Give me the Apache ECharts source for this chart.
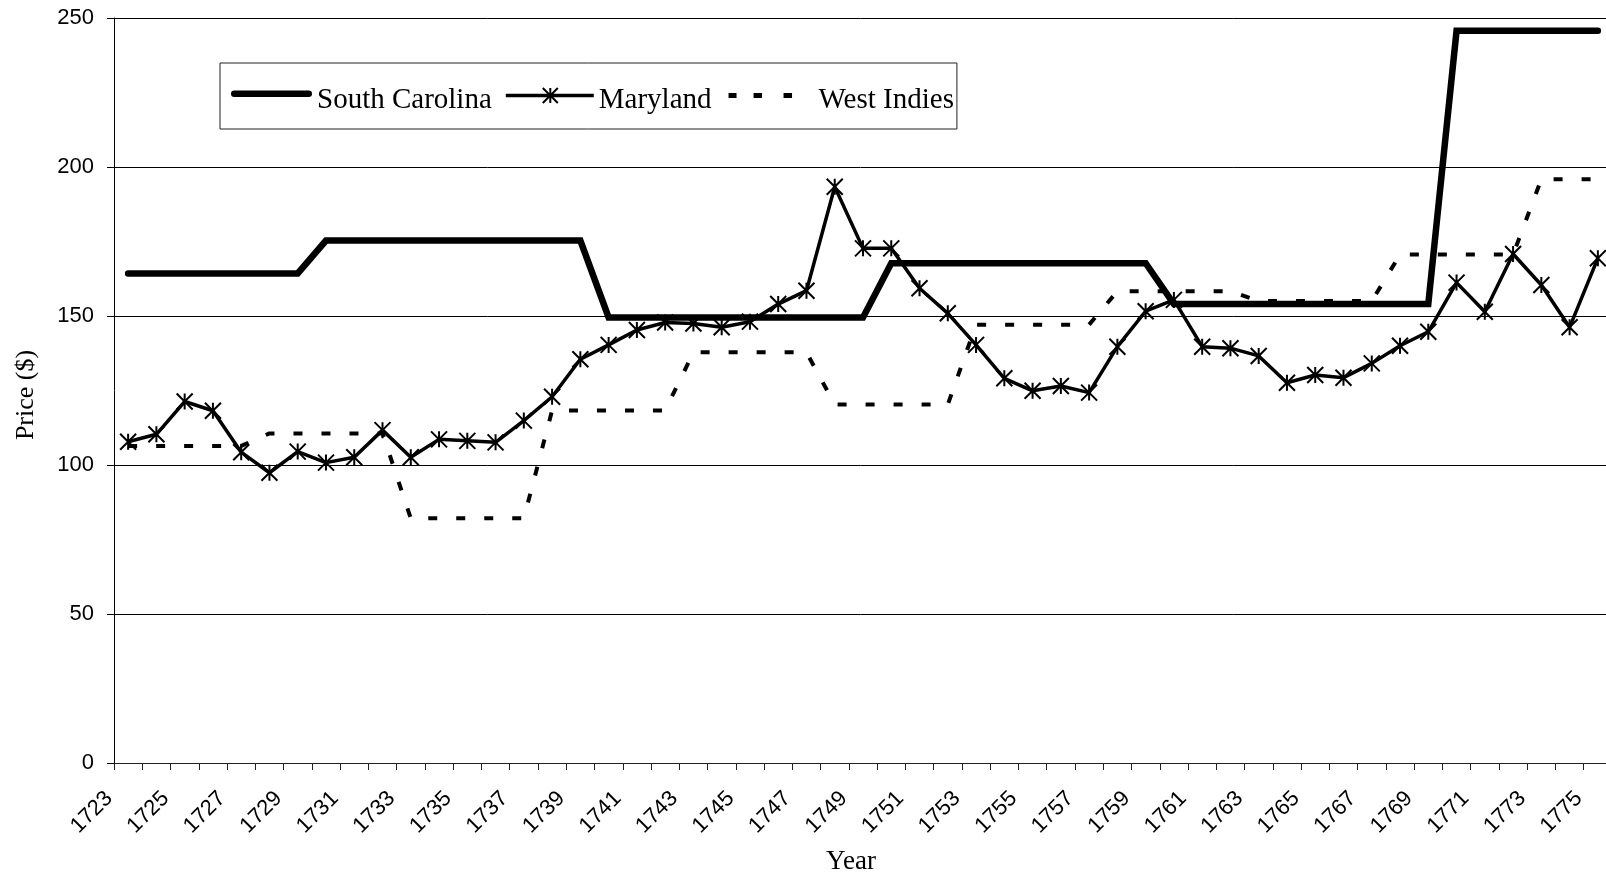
<!DOCTYPE html>
<html>
<head>
<meta charset="utf-8">
<script src="https://cdn.jsdelivr.net/npm/echarts@6/dist/echarts.min.js"></script>
<style>
html,body{margin:0;padding:0;background:#fff;}
#chart{width:1606px;height:878px;}
</style>
</head>
<body>
<div id="chart"></div>
<script>
var years = ['1723','1724','1725','1726','1727','1728','1729','1730','1731','1732','1733','1734','1735','1736','1737','1738','1739','1740','1741','1742','1743','1744','1745','1746','1747','1748','1749','1750','1751','1752','1753','1754','1755','1756','1757','1758','1759','1760','1761','1762','1763','1764','1765','1766','1767','1768','1769','1770','1771','1772','1773','1774','1775'];

var southCarolina = [164.3,164.3,164.3,164.3,164.3,164.3,164.3,
  175.3,175.3,175.3,175.3,175.3,175.3,175.3,175.3,175.3,175.3,
  149.5,149.5,149.5,149.5,149.5,149.5,149.5,149.5,149.5,149.5,
  167.7,167.7,167.7,167.7,167.7,167.7,167.7,167.7,167.7,167.7,
  154.0,154.0,154.0,154.0,154.0,154.0,154.0,154.0,154.0,154.0,
  245.7,245.7,245.7,245.7,245.7,245.7];

var maryland = [107.8,110.3,121.3,118.2,104.3,97.4,104.5,100.8,102.6,111.7,102.6,108.6,108.1,107.6,114.9,122.9,135.5,
  140.3,145.3,147.8,147.5,146.2,148.1,154.0,158.5,193.4,172.7,172.7,159.3,150.9,140.3,129.1,124.9,126.5,
  124.3,139.7,151.6,155.4,139.7,139.2,136.6,127.6,130.2,129.3,134.1,140.0,144.7,161.2,151.4,170.8,160.4,146.2,169.4];

var westIndies = [106.4,106.4,106.4,106.4,106.4,
  110.6,110.6,110.6,110.6,110.6,
  82.1,82.1,82.1,82.1,82.1,
  118.3,118.3,118.3,118.3,118.3,
  137.8,137.8,137.8,137.8,137.8,
  120.3,120.3,120.3,120.3,120.3,
  147.1,147.1,147.1,147.1,147.1,
  158.3,158.3,158.3,158.3,158.3,
  155.0,155.0,155.0,155.0,155.0,
  170.6,170.6,170.6,170.6,170.6,
  195.9,195.9,195.9];

var yTicks = {min: 0, max: 250, interval: 50};

var chart = echarts.init(document.getElementById('chart'), null, {renderer: 'canvas'});
var serif = '"Liberation Serif", "Times New Roman", serif';
var sans = '"Liberation Sans", Arial, sans-serif';

// legend icons (all share a 88x26 box so they are drawn at 1:1)
var box = 'M0,0L0.02,0L0.02,0.02Z M87.98,25.98L88,25.98L88,26Z ';
var iconSC = 'path://' + box + 'M10.25,3.55 L84.75,3.55 A3.25,3.25 0 0 1 84.75,10.05 L10.25,10.05 A3.25,3.25 0 0 1 10.25,3.55 Z';
var iconMD = 'path://' + box + 'M0,6.75 L88,6.75 L88,10.25 L0,10.25 Z ' +
  'M43.5,1 L45.5,1 L45.5,16 L43.5,16 Z ' +
  'M37.71,0.29 L52.71,15.29 L51.29,16.71 L36.29,1.71 Z ' +
  'M52.71,1.71 L37.71,16.71 L36.29,15.29 L51.29,0.29 Z';
var iconWI = 'path://' + box + 'M3,6 L11,6 L11,11 L3,11 Z M28,6 L36.5,6 L36.5,11 L28,11 Z M58,6 L66.5,6 L66.5,11 L58,11 Z';

chart.setOption({
  animation: false,
  backgroundColor: '#fff',
  grid: {left: 114, top: 18, right: -6, bottom: 115, containLabel: false, outerBoundsMode: 'none'},
  legend: {
    left: 220, top: 63,
    orient: 'horizontal',
    padding: [22.5, 3, 14.5, 4],
    itemGap: 14,
    itemWidth: 88,
    itemHeight: 26,
    symbolKeepAspect: true,
    borderColor: '#222',
    borderWidth: 1,
    backgroundColor: '#fff',
    itemStyle: {color: '#000', borderWidth: 0},
    textStyle: {fontFamily: serif, fontSize: 29, color: '#000'},
    data: [
      {name: 'South Carolina', icon: iconSC, itemStyle: {color: '#000', borderWidth: 0}},
      {name: 'Maryland', icon: iconMD, itemStyle: {color: '#000', borderWidth: 0}},
      {name: 'West Indies', icon: iconWI, itemStyle: {color: '#000', borderWidth: 0}}
    ]
  },
  xAxis: {
    type: 'category',
    data: years,
    boundaryGap: true,
    name: 'Year',
    nameLocation: 'middle',
    nameGap: 85,
    nameTextStyle: {fontFamily: serif, fontSize: 27, color: '#000', padding: [0, 24, 0, 0]},
    axisLine: {show: true, lineStyle: {color: '#222', width: 1}},
    axisTick: {show: true, interval: 0, length: 7, inside: false, lineStyle: {color: '#222'}},
    axisLabel: {
      interval: 1, rotate: 45, margin: 13,
      padding: [0, 27, 0, 0],
      fontFamily: sans, fontSize: 22, color: '#000'
    },
    splitLine: {show: false}
  },
  yAxis: {
    type: 'value',
    min: yTicks.min, max: yTicks.max, interval: yTicks.interval,
    name: 'Price ($)',
    nameLocation: 'middle',
    nameGap: 75,
    nameRotate: 90,
    nameTextStyle: {fontFamily: serif, fontSize: 26, color: '#000', padding: [0, 9, 0, 0]},
    axisLine: {show: true, lineStyle: {color: '#000', width: 1}},
    axisTick: {show: true, length: 7, inside: false, lineStyle: {color: '#000'}},
    axisLabel: {margin: 20, fontFamily: sans, fontSize: 22, color: '#000'},
    splitLine: {show: true, lineStyle: {color: '#000', width: 1}}
  },
  series: [
    {
      name: 'South Carolina', type: 'line', data: southCarolina,
      showSymbol: false, symbol: 'none',
      lineStyle: {color: '#000', width: 6.5, cap: 'round', join: 'miter'},
      itemStyle: {color: '#000'},
      z: 2
    },
    {
      name: 'Maryland', type: 'line', data: maryland,
      symbol: 'path://M0,0L10,10M10,0L0,10M5,0L5,10',
      symbolSize: 16,
      showSymbol: true, showAllSymbol: true,
      lineStyle: {color: '#000', width: 3.5},
      itemStyle: {color: 'rgba(0,0,0,0)', borderColor: '#000', borderWidth: 2},
      z: 4
    },
    {
      name: 'West Indies', type: 'line', data: westIndies,
      showSymbol: false, symbol: 'none',
      lineStyle: {color: '#000', width: 4, type: [9, 19], cap: 'butt'},
      itemStyle: {color: '#000'},
      z: 3
    }
  ]
});
</script>
</body>
</html>
